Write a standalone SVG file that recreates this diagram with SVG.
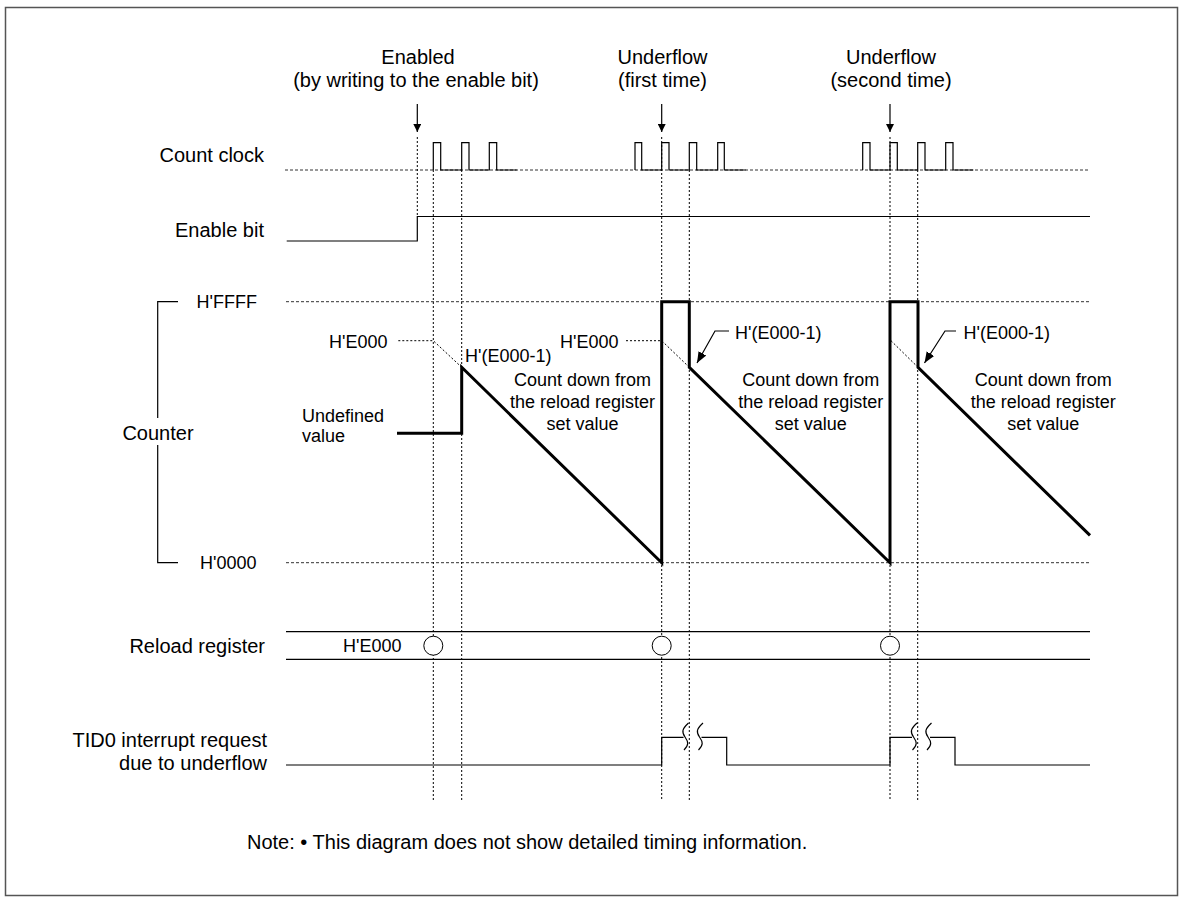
<svg xmlns="http://www.w3.org/2000/svg" width="1185" height="903" viewBox="0 0 1185 903">
<defs>
<style>
text{font-family:"Liberation Sans",Arial,sans-serif;fill:#000}
.l{font-size:20px;text-anchor:end}
.c{font-size:20px;text-anchor:middle}
.s{font-size:18px}
.sm{font-size:18px;text-anchor:middle}
.se{font-size:18px;text-anchor:end}
.dash{stroke:#333;stroke-width:1;stroke-dasharray:3 2;fill:none}
.dot{stroke:#000;stroke-width:1;stroke-dasharray:2 2;fill:none}
.thin{stroke:#000;stroke-width:1.2;fill:none}
.thick{stroke:#000;stroke-width:3;fill:none;stroke-linejoin:miter}
</style>
<marker id="ah" viewBox="0 0 10 10" refX="10" refY="5" markerWidth="8" markerHeight="8" markerUnits="userSpaceOnUse" orient="auto">
<path d="M0,0 L10,5 L0,10 z" fill="#000"/>
</marker>
<marker id="ah2" viewBox="0 0 10 10" refX="10" refY="5" markerWidth="11" markerHeight="11" markerUnits="userSpaceOnUse" orient="auto">
<path d="M0,1 L10,5 L0,9 z" fill="#000"/>
</marker>
</defs>
<rect x="5.5" y="7.5" width="1172" height="888" fill="#fff" stroke="#555" stroke-width="1.5"/>

<g id="event-labels">
<text class="c" x="418" y="64">Enabled</text>
<text class="c" x="416" y="87">(by writing to the enable bit)</text>
<text class="c" x="662.5" y="64">Underflow</text>
<text class="c" x="662.5" y="87">(first time)</text>
<text class="c" x="891" y="64">Underflow</text>
<text class="c" x="891" y="87">(second time)</text>
</g>

<g id="signal-labels">
<text class="l" x="264" y="162">Count clock</text>
<text class="l" x="264" y="237">Enable bit</text>
<text class="c" x="158" y="440">Counter</text>
<text class="l" x="265" y="653">Reload register</text>
<text class="l" x="267" y="747">TID0 interrupt request</text>
<text class="l" x="267" y="770">due to underflow</text>
</g>

<g id="counter-bracket">
<path class="thin" d="M178 301.7 H157.7 V418 M157.7 445 V562.7 H178" stroke="#555"/>
<text class="se" x="257" y="308">H'FFFF</text>
<text class="se" x="256.5" y="569">H'0000</text>
</g>

<g id="connectors">
<path class="dash" d="M285 170 H1090"/>
<path class="dash" d="M286 301.7 H1090"/>
<path class="dash" d="M286 562.7 H1090"/>
<path class="dot" d="M417.3 137 V216"/>
<path class="dot" d="M433.3 170 V800"/>
<path class="dot" d="M461.7 170 V800"/>
<path class="dot" d="M661.7 137 V800"/>
<path class="dot" d="M689.3 170 V800"/>
<path class="dot" d="M890 137 V800"/>
<path class="dot" d="M917.7 170 V800"/>
<path class="thin" d="M417.3 104 V132" marker-end="url(#ah)"/>
<path class="thin" d="M661.7 104 V132" marker-end="url(#ah)"/>
<path class="thin" d="M890 104 V132" marker-end="url(#ah)"/>
<path class="thin" d="M433.3 170 V142.7 H440.7 V170 H461.7 V142.7 H469 V170 H489.3 V142.7 H496.7 V170 H516.7"/>
<path class="thin" d="M635 170 V142.7 H641.7 V170 H661.7 V142.7 H669 V170 H689.3 V142.7 H696.7 V170 H717.7 V142.7 H724.3 V170 H745.7"/>
<path class="thin" d="M862.7 170 V142.7 H870 V170 H890 V142.7 H897.3 V170 H917.7 V142.7 H925 V170 H945.7 V142.7 H953 V170 H973.3"/>
<path class="thin" d="M286.7 241 H417.3 V216.5 H1090"/>
<path class="thick" d="M397 433.3 H461.7 V367.3 L661.7 562.7 V301.7 H689.3 V367.3 L890 562.7 V301.7 H918 V367.3 L1090 535.4"/>
<path class="dot" d="M398.3 340.7 H433.3 L461.7 367.3"/>
<path class="dot" d="M626 340.7 H661.7 L689.3 367.3"/>
<path class="dot" d="M891 340.7 L918 367.3"/>
<path class="thin" d="M729 331 H715 L697 363" marker-end="url(#ah2)"/>
<path class="thin" d="M956 331 H945 L924.5 363" marker-end="url(#ah2)"/>
<path class="thin" d="M286 631.7 H1090 M286 659.3 H1090"/>
<path class="thin" d="M286 765 H661.7 V737.3 H683.5 M701.5 737.3 H726.7 V765 H890 V737.3 H912 M930 737.3 H955 V765 H1090"/>
<path class="thin" d="M688.5 723 C682 729 681.5 732 685 737 C688.5 742 689 745 684 750"/>
<path class="thin" d="M703 723 C696.5 729 696 732 699.5 737 C703 742 703.5 745 698.5 750"/>
<path class="thin" d="M917 723 C910.5 729 910 732 913.5 737 C917 742 917.5 745 912.5 750"/>
<path class="thin" d="M931.5 723 C925 729 924.5 732 928 737 C931.5 742 932 745 927 750"/>
</g>

<g id="reload-circles">
<circle cx="433.3" cy="645.7" r="9.5" fill="#fff" stroke="#000" stroke-width="1"/>
<circle cx="661.7" cy="645.7" r="9.5" fill="#fff" stroke="#000" stroke-width="1"/>
<circle cx="890" cy="645.7" r="9.5" fill="#fff" stroke="#000" stroke-width="1"/>
<text class="s" x="343" y="652">H'E000</text>
</g>

<g id="counter-labels">
<text class="se" x="387.5" y="348">H'E000</text>
<text class="se" x="618.5" y="348">H'E000</text>
<text class="s" x="465" y="362">H'(E000-1)</text>
<text class="s" x="735" y="338.5">H'(E000-1)</text>
<text class="s" x="963.5" y="338.5">H'(E000-1)</text>
<text class="s" x="302" y="422">Undefined</text>
<text class="s" x="302" y="441.5">value</text>
<text class="sm" x="582.5" y="386">Count down from</text>
<text class="sm" x="582.5" y="408">the reload register</text>
<text class="sm" x="582.5" y="429.5">set value</text>
<text class="sm" x="810.8" y="386">Count down from</text>
<text class="sm" x="810.8" y="408">the reload register</text>
<text class="sm" x="810.8" y="429.5">set value</text>
<text class="sm" x="1043.3" y="386">Count down from</text>
<text class="sm" x="1043.3" y="408">the reload register</text>
<text class="sm" x="1043.3" y="429.5">set value</text>
</g>

<g id="note">
<text x="247" y="849" font-size="20">Note: • This diagram does not show detailed timing information.</text>
</g>
</svg>
